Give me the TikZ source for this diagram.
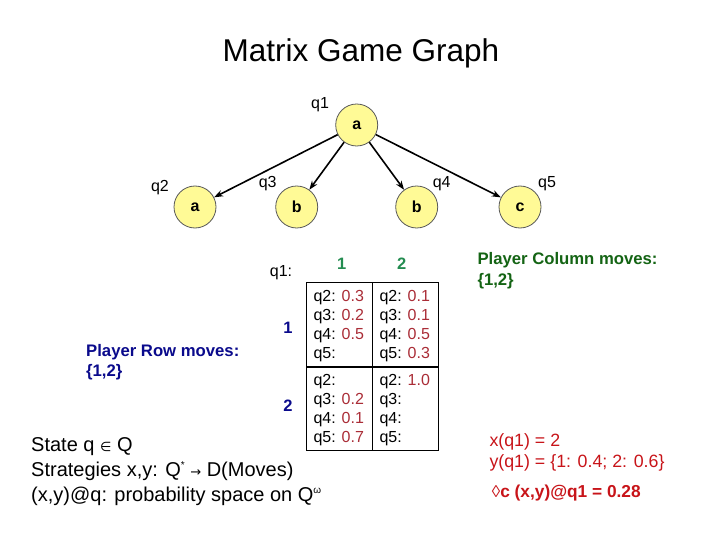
\documentclass[tikz,border=0pt]{standalone}
\usepackage{fontspec}
\setmainfont{Liberation Sans}
\newfontfamily\symfont{DejaVu Sans}
\usetikzlibrary{arrows.meta,positioning}
\definecolor{nodefill}{RGB}{255,250,150}
\definecolor{probred}{RGB}{170,45,55}
\definecolor{colgreen}{RGB}{35,140,80}
\definecolor{rowblue}{RGB}{10,10,140}
\definecolor{playgreen}{RGB}{20,100,20}
\definecolor{evalred}{RGB}{200,20,25}
\newcommand{\pv}[1]{\textcolor{probred}{#1}}
\newcommand{\fs}[2]{\fontsize{#1}{#2}\selectfont}
\newcommand{\smsym}[1]{{\symfont\fs{13}{13}#1}}
\newcommand{\supsym}[1]{\raisebox{0.75ex}{\fs{10}{10}#1}}

\begin{document}
\begin{tikzpicture}[x=1pt, y=-1pt,
  state/.style={circle, draw=black!65, line width=0.8pt, fill=nodefill, minimum size=42pt, inner sep=0pt, font=\fs{16}{19}\bfseries},
  stlab/.style={font=\fs{16}{19}},
  move/.style={-{Stealth[length=9pt,width=6.5pt]}, line width=1.6pt},
  celltxt/.style={anchor=base west, inner sep=0pt, font=\fs{16}{19}},
  hdr/.style={font=\fs{16.5}{19}\bfseries},
  note/.style={align=left, anchor=west, inner sep=0pt}
]
\useasboundingbox (0,0) rectangle (720,540);
\fill[white] (0,0) rectangle (720,540);

\node[font=\fs{31.5}{34}] (title) at (361,53) {Matrix Game Graph};

% game graph
\node[state] (q1) at (356.7,125) {a};
\node[state] (q2) at (195,207) {a};
\node[state] (q3) at (296.7,207) {b};
\node[state] (q4) at (416.7,207) {b};
\node[state] (q5) at (520,207) {c};
\node[stlab] (l1) at (320,105) {q1};
\node[stlab] (l2) at (160,188) {q2};
\node[stlab] (l3) at (267.7,184) {q3};
\node[stlab] (l4) at (441.7,184) {q4};
\node[stlab] (l5) at (547,184) {q5};
\foreach \t in {q2,q3,q4,q5}
  \draw[move] (q1) -- (\t);

% payoff table at q1
\draw[line width=0.8pt] (306.7,282.3) rectangle (438.3,450.7);
\draw[line width=0.8pt] (372.5,282.3) -- (372.5,450.7);
\draw[line width=2pt] (306.7,366.7) -- (438.3,366.7);
\node[stlab] (tq1) at (281,273) {q1:};
\node[hdr, text=colgreen] (col1) at (341.7,264) {1};
\node[hdr, text=colgreen] (col2) at (401.7,264) {2};
\node[hdr, text=rowblue] (row1) at (288,328) {1};
\node[hdr, text=rowblue] (row2) at (288,406) {2};
\foreach \i/\v [count=\k from 0] in {2/0.3,3/0.2,4/0.5,5/{}}
  \node[celltxt] (a11-\i) at (313.3,301+\k*19) {q\i: \pv{\v}};
\foreach \i/\v [count=\k from 0] in {2/0.1,3/0.1,4/0.5,5/0.3}
  \node[celltxt] (a12-\i) at (379.3,301+\k*19) {q\i: \pv{\v}};
\foreach \i/\v [count=\k from 0] in {2/{},3/0.2,4/0.1,5/0.7}
  \node[celltxt] (a21-\i) at (313.3,385+\k*19) {q\i: \pv{\v}};
\foreach \i/\v [count=\k from 0] in {2/1.0,3/{},4/{},5/{}}
  \node[celltxt] (a22-\i) at (379.3,385+\k*19) {q\i: \pv{\v}};

% players
\node[note, font=\fs{16.7}{20.5}\bfseries, text=rowblue] (prow) at (86,362) {Player Row moves:\\\{1,2\}};
\node[note, font=\fs{16.7}{21}\bfseries, text=playgreen] (pcol) at (477.3,271) {Player Column moves:\\\{1,2\}};

% definitions
\node[note, font=\fs{20}{24.7}] (defs) at (31,471.5)
  {State q \smsym{∈} Q\\Strategies x,y: Q\supsym{*} \smsym{→} D(Moves)\\(x,y)@q: probability space on Q\supsym{ω}};

% example strategies
\node[note, font=\fs{17.8}{21}, text=evalred] (strat) at (489.3,452.2) {x(q1) = 2\\y(q1) = \{1: 0.4; 2: 0.6\}};
\node[note, font=\fs{17.3}{21}\bfseries, text=evalred] (evalc) at (491.7,493.3) {{\mdseries\fs{17}{21}◊}c (x,y)@q1 = 0.28};
\end{tikzpicture}
\end{document}
